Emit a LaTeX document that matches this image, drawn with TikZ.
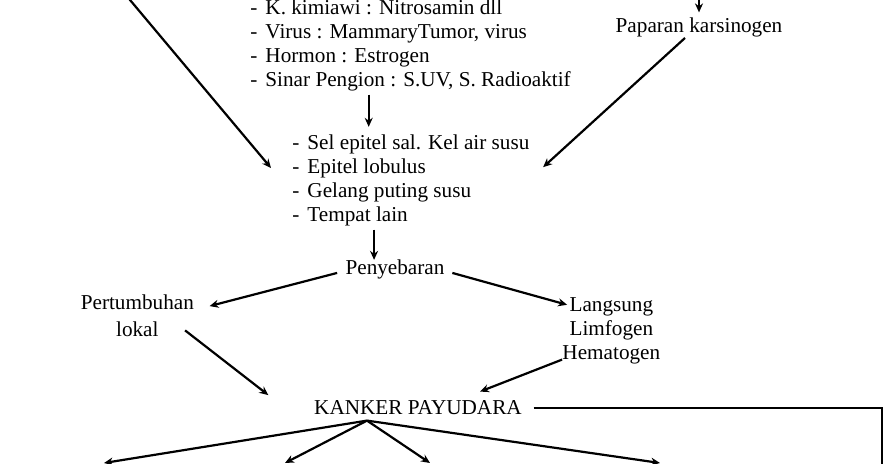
\documentclass[tikz,border=0pt]{standalone}
\usepackage{fontspec}
\setmainfont{Liberation Serif}
\usetikzlibrary{arrows.meta, positioning, calc}
\tikzset{
    txt/.style={inner sep=0pt, align=center, font=\fontsize{10.6}{12}\selectfont},
    arrow/.style={line width=1.1pt, -{Stealth[length=4.5pt, width=4pt]}},
    link/.style={line width=0.7pt}
}

\begin{document}
\begin{tikzpicture}[x=0.5pt, y=-0.5pt]
    \useasboundingbox (0,0) rectangle (884,464);
    % causes and sites
    \node[txt, anchor=base west] (causes) at (250,15) {
        \begin{tabular}[t]{@{}l@{\hspace{4pt}}l@{}}
            - & K. kimiawi : Nitrosamin dll \\
            - & Virus : MammaryTumor, virus \\
            - & Hormon : Estrogen \\
            - & Sinar Pengion : S.UV, S. Radioaktif
        \end{tabular}
    };
    \node[txt, anchor=base west] (sites) at (292,150) {
        \begin{tabular}[t]{@{}l@{\hspace{4pt}}l@{}}
            - & Sel epitel sal. Kel air susu \\
            - & Epitel lobulus \\
            - & Gelang puting susu \\
            - & Tempat lain
        \end{tabular}
    };
    \node[txt, anchor=base] (papar) at (699,33) {Paparan karsinogen};
    \node[txt, anchor=base] (sebar) at (395,275) {Penyebaran};
    \node[txt, anchor=base] (lokal) at (140,310) {
        \begin{tabular}[t]{@{}c@{}}
            Pertumbuhan \\[1.5pt]
            lokal
        \end{tabular}
    };
    \node[txt, anchor=base] (jalur) at (614,312) {
        \begin{tabular}[t]{@{}c@{}}
            Langsung \\
            Limfogen \\
            Hematogen
        \end{tabular}
    };
    \node[txt, anchor=base] (kanker) at (418,415) {KANKER PAYUDARA};

    % free ends
    \coordinate (papIn) at (699,-6);
    \coordinate (leftIn) at (125,-6);
    \coordinate (edgeR) at (882,470);
    \coordinate (c1) at ([xshift=-22.25pt]causes.south);
    \coordinate (c2) at ([xshift=-19.75pt]sites.south);
    \coordinate (kkOut) at ([xshift=-25.5pt, yshift=-2.5pt]kanker.south);

    % arrows
    \draw[arrow] (papIn) -- ([yshift=2.75pt]papar.north);
    \draw[arrow] (leftIn) -- ([xshift=-10.5pt, yshift=6.6pt]sites.west);
    \draw[arrow] ([xshift=-7pt]papar.south) -- ([xshift=4pt, yshift=7pt]sites.east);
    \draw[arrow, shorten >=3pt] (c1) -- (c1 |- sites.north);
    \draw[arrow] (c2) -- (c2 |- sebar.north);
    \draw[arrow] ([xshift=-4pt, yshift=-1.5pt]sebar.west) -- ([xshift=5pt, yshift=6.3pt]lokal.east);
    \draw[arrow] ([xshift=3.75pt, yshift=-1.5pt]sebar.east) -- ([xshift=2.5pt, yshift=-5pt]jalur.north west);
    \draw[arrow] ([xshift=-7.25pt, yshift=7.1pt]lokal.south east) -- ([xshift=-22.75pt, yshift=6.5pt]kanker.west);
    \draw[arrow] ([yshift=4pt]jalur.south west) -- ([xshift=31pt, yshift=4.5pt]kanker.north);
    \draw[link, shorten <=5.75pt] (kanker.east) -| (edgeR);
    \foreach \x [count=\i] in {104,285,430,660} {
        \coordinate (res\i) at (\x,463);
        \draw[arrow] (kkOut) -- (res\i);
    }
\end{tikzpicture}
\end{document}
